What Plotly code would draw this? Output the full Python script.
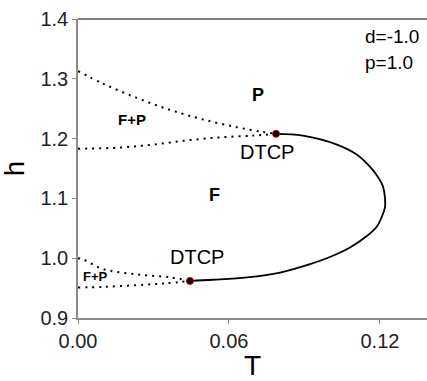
import plotly.graph_objects as go

# Solid transition line (between the two DTCP points)
solid_T = [0.0787, 0.0894, 0.1029, 0.1109, 0.1160, 0.1190, 0.1212, 0.1220, 0.1220, 0.1208, 0.1188,
           0.1148, 0.1081, 0.1001, 0.0922, 0.0803, 0.0672, 0.0536, 0.0445]
solid_h = [1.208, 1.205, 1.190, 1.173, 1.153, 1.137, 1.120, 1.100, 1.085, 1.070, 1.053,
           1.037, 1.018, 1.002, 0.990, 0.976, 0.968, 0.964, 0.962]

# Upper F+P region boundaries
up_top_T = [0.0, 0.0099, 0.0234, 0.0366, 0.0497, 0.0632, 0.0735, 0.0787]
up_top_h = [1.313, 1.292, 1.268, 1.248, 1.232, 1.219, 1.211, 1.208]
up_bot_T = [0.0, 0.0167, 0.0298, 0.0433, 0.0564, 0.0695, 0.0787]
up_bot_h = [1.183, 1.185, 1.190, 1.197, 1.202, 1.205, 1.208]

# Lower F+P region boundaries
lo_top_T = [0.0, 0.0020, 0.0099, 0.0234, 0.0366, 0.0445]
lo_top_h = [1.000, 0.998, 0.982, 0.973, 0.968, 0.962]
lo_bot_T = [0.0, 0.0100, 0.0234, 0.0350, 0.0445]
lo_bot_h = [0.951, 0.952, 0.955, 0.958, 0.962]

# DTCP points
dtcp_T = [0.0787, 0.0445]
dtcp_h = [1.208, 0.962]

x_ticks = [0.0, 0.06, 0.12]
x_ticklabels = ["0.00", "0.06", "0.12"]
y_ticks = [0.9, 1.0, 1.1, 1.2, 1.3, 1.4]
y_ticklabels = ["0.9", "1.0", "1.1", "1.2", "1.3", "1.4"]

FONT = "Liberation Sans, Arial, sans-serif"

fig = go.Figure()
dotted = dict(color="black", width=2, dash="2px,5px")
for T, h in [(up_top_T, up_top_h), (up_bot_T, up_bot_h), (lo_top_T, lo_top_h), (lo_bot_T, lo_bot_h)]:
    fig.add_trace(go.Scatter(x=T, y=h, mode="lines", line=dotted, line_shape="spline",
                             showlegend=False, hoverinfo="skip"))
fig.add_trace(go.Scatter(x=solid_T, y=solid_h, mode="lines", line=dict(color="black", width=1.8),
                         line_shape="spline", showlegend=False))
fig.add_trace(go.Scatter(x=dtcp_T, y=dtcp_h, mode="markers",
                         marker=dict(symbol="circle", size=7, color="black", line=dict(color="#d00000", width=1)),
                         showlegend=False))

ann = [
    dict(x=0.0715, y=1.273, text="<b>P</b>", size=18),
    dict(x=0.0215, y=1.232, text="<b>F+P</b>", size=15),
    dict(x=0.0544, y=1.105, text="<b>F</b>", size=18),
    dict(x=0.0068, y=0.970, text="<b>F+P</b>", size=13),
    dict(x=0.0751, y=1.177, text="DTCP", size=20),
    dict(x=0.0473, y=1.002, text="DTCP", size=20),
]
for a in ann:
    fig.add_annotation(x=a["x"], y=a["y"], text=a["text"], showarrow=False,
                       font=dict(family=FONT, size=a["size"], color="black"))
fig.add_annotation(xref="paper", yref="paper", x=0.817, y=0.94, xanchor="left", yanchor="middle",
                   text="d=-1.0", showarrow=False, font=dict(family=FONT, size=19, color="black"))
fig.add_annotation(xref="paper", yref="paper", x=0.817, y=0.853, xanchor="left", yanchor="middle",
                   text="p=1.0", showarrow=False, font=dict(family=FONT, size=19, color="black"))

# top frame line
fig.add_shape(type="line", xref="paper", yref="paper", x0=0, x1=1, y0=1, y1=1,
              line=dict(color="#555555", width=1.5))

fig.update_xaxes(range=[0, 0.1387], tickvals=x_ticks, ticktext=x_ticklabels,
                 showgrid=False, zeroline=False, showline=True, linecolor="#8a8a8a", linewidth=1.5,
                 ticks="outside", ticklen=4, tickcolor="#8a8a8a", tickwidth=1,
                 tickfont=dict(family=FONT, size=20, color="#222222"),
                 title=dict(text="T", font=dict(family=FONT, size=28, color="black"), standoff=2))
fig.update_yaxes(range=[0.9, 1.4], tickvals=y_ticks, ticktext=y_ticklabels,
                 showgrid=False, zeroline=False, showline=True, linecolor="#8a8a8a", linewidth=1.5,
                 ticks="outside", ticklen=4, tickcolor="#8a8a8a", tickwidth=1,
                 tickfont=dict(family=FONT, size=20, color="#222222"),
                 title=dict(text="h", font=dict(family=FONT, size=27, color="black"), standoff=8))
fig.update_layout(width=427, height=381, margin=dict(l=78, r=0, t=19, b=63),
                  plot_bgcolor="white", paper_bgcolor="white")
fig.write_html("out.html")
